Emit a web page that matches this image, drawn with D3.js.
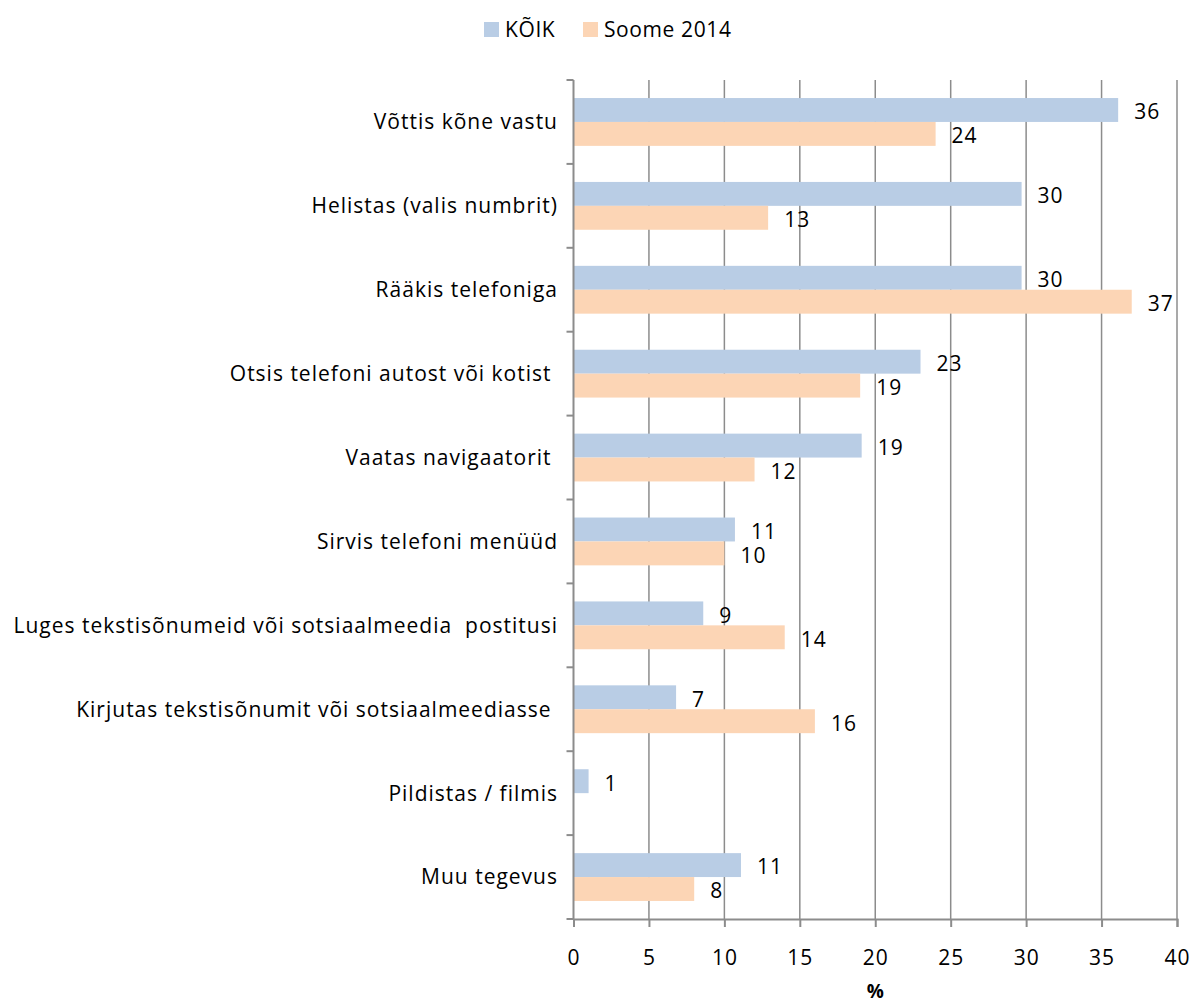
<!DOCTYPE html>
<html>
<head>
<meta charset="utf-8">
<script src="https://cdn.jsdelivr.net/npm/d3@7"></script>
<style>
  body { margin: 0; background: #fff; }
  text { font-family: "Open Sans", Lato, sans-serif; fill: #000; white-space: pre; }
</style>
</head>
<body>
<script>
// andmed
var kategooriad = ["Võttis kõne vastu", "Helistas (valis numbrit)", "Rääkis telefoniga",
                   "Otsis telefoni autost või kotist ", "Vaatas navigaatorit ", "Sirvis telefoni menüüd",
                   "Luges tekstisõnumeid või sotsiaalmeedia  postitusi", "Kirjutas tekstisõnumit või sotsiaalmeediasse ",
                   "Pildistas / filmis", "Muu tegevus"]
var seeriad = ["KÕIK", "Soome 2014"]
var koik = [36.1, 29.7, 29.7, 23.0, 19.1, 10.7, 8.6, 6.8, 1.0, 11.1]
var soome = [24, 12.9, 37, 19, 12, 10, 14, 16, null, 8]
var tickid = [0, 5, 10, 15, 20, 25, 30, 35, 40]
var varvid = ["#b9cde5", "#fcd5b5"]

var W = 1195, H = 1003
var pLeft = 573.5, pRight = 1177, pTop = 80, pBottom = 919

var svg = d3.select("body").append("svg")
    .attr("width", W)
    .attr("height", H)

var x = d3.scaleLinear().domain([0, 40]).range([pLeft, pRight])
var y = d3.scaleBand().domain(kategooriad).range([pTop, pBottom]).paddingInner(0.43).paddingOuter(0.215)
var ySeeria = d3.scaleBand().domain(seeriad).range([0, y.bandwidth()])

var andmed = []
kategooriad.forEach(function(k, i) {
    andmed.push({kat: k, seeria: seeriad[0], v: koik[i]})
    if (soome[i] != null) andmed.push({kat: k, seeria: seeriad[1], v: soome[i]})
})

// ruudustik
svg.append("g")
    .selectAll("line")
    .data(tickid.slice(1))
    .enter()
    .append("line")
    .attr("x1", d => x(d)).attr("x2", d => x(d))
    .attr("y1", pTop).attr("y2", pBottom)
    .style("stroke", "#8c8c8c")
    .style("stroke-width", 1.5)

// tulbad
svg.append("g")
    .selectAll("rect")
    .data(andmed)
    .enter()
    .append("rect")
    .attr("x", x(0))
    .attr("y", d => y(d.kat) + ySeeria(d.seeria))
    .attr("width", d => x(d.v) - x(0))
    .attr("height", ySeeria.bandwidth())
    .attr("fill", d => varvid[seeriad.indexOf(d.seeria)])

// väärtused
svg.append("g")
    .selectAll("text")
    .data(andmed)
    .enter()
    .append("text")
    .attr("x", d => x(d.v) + 16)
    .attr("y", d => y(d.kat) + ySeeria(d.seeria) + ySeeria.bandwidth() / 2 + 2)
    .attr("dy", "0.35em")
    .style("font-size", "21px")
    .style("letter-spacing", "1px")
    .text(d => Math.round(d.v))

// y-telg
var yAxis = svg.append("g").attr("transform", "translate(" + pLeft + ",0)")
yAxis.append("line")
    .attr("x1", 0).attr("x2", 0).attr("y1", pTop).attr("y2", pBottom)
    .style("stroke", "#8c8c8c").style("stroke-width", 2)
var bandStep = (pBottom - pTop) / kategooriad.length
yAxis.selectAll(".tick")
    .data(d3.range(kategooriad.length + 1))
    .enter()
    .append("line")
    .attr("x1", -7).attr("x2", 0)
    .attr("y1", d => pTop + d * bandStep).attr("y2", d => pTop + d * bandStep)
    .style("stroke", "#8c8c8c").style("stroke-width", 2)

svg.append("g")
    .selectAll("text")
    .data(kategooriad)
    .enter()
    .append("text")
    .attr("x", 558)
    .attr("y", d => y(d) + y.bandwidth() / 2)
    .attr("dy", "0.35em")
    .attr("text-anchor", "end")
    .style("font-size", "21px")
    .style("letter-spacing", "1px")
    .text(d => d)

// x-telg
var xAxis = svg.append("g")
    .attr("transform", "translate(0," + pBottom + ")")
    .call(d3.axisBottom(x).tickValues(tickid).tickSize(8).tickPadding(23))
xAxis.select(".domain").style("stroke", "#8c8c8c").style("stroke-width", 2)
xAxis.selectAll(".tick line").style("stroke", "#8c8c8c").style("stroke-width", 2)
xAxis.selectAll(".tick text")
    .style("font-size", "21px")
    .style("font-family", "'Open Sans', sans-serif")
    .style("letter-spacing", "1px")
    .attr("fill", "#000")

svg.append("text")
    .attr("x", (pLeft + pRight) / 2)
    .attr("y", 991)
    .attr("dy", "0.35em")
    .attr("text-anchor", "middle")
    .style("font-size", "19px")
    .style("font-weight", "bold")
    .text("%")

// legend
var legend = svg.append("g")
    .selectAll("g")
    .data(seeriad)
    .enter()
    .append("g")
    .attr("transform", (d, i) => "translate(" + [484, 583][i] + ",22)")
legend.append("rect")
    .attr("width", 15).attr("height", 15)
    .attr("fill", (d, i) => varvid[i])
legend.append("text")
    .attr("x", 21).attr("y", 8)
    .attr("dy", "0.35em")
    .style("font-size", "21px")
    .style("letter-spacing", "0.6px")
    .text(d => d)
</script>
</body>
</html>
